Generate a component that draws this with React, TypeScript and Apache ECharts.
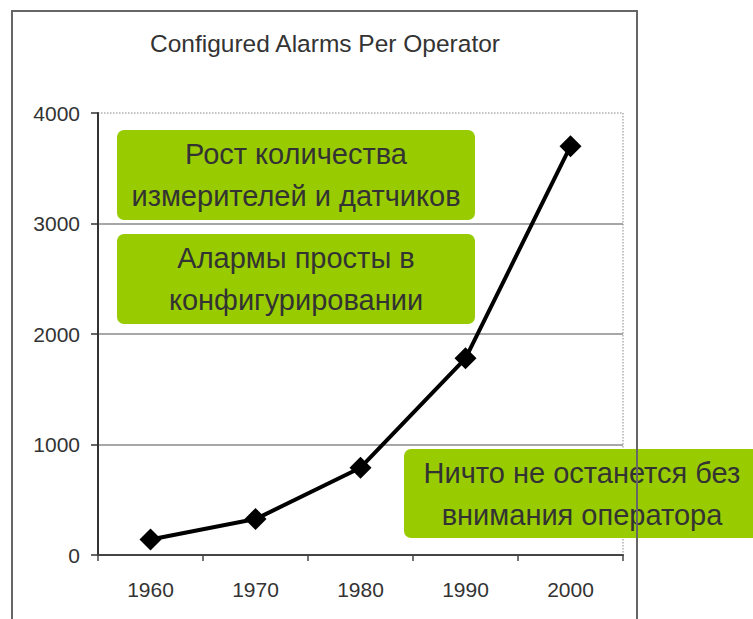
import React, { useEffect, useRef } from "react";
import * as echarts from "echarts";

const years = ["1960", "1970", "1980", "1990", "2000"];
const alarms = [140, 325, 790, 1780, 3700];
const chartTitle = "Configured Alarms Per Operator";
const notes = [
  "Рост количества\nизмерителей и датчиков",
  "Алармы просты в\nконфигурировании",
  "Ничто не останется без\nвнимания оператора",
];

const FONT = "Liberation Sans";
const GREEN = "#99CC00";
const TEXT = "#333333";

function noteBox(x: number, y: number, w: number, h: number, text: string, cx: number) {
  return {
    type: "group",
    z: 100,
    children: [
      {
        type: "rect",
        shape: { x, y, width: w, height: h, r: 7 },
        style: { fill: GREEN },
      },
      {
        type: "text",
        x: cx,
        y: y + h / 2,
        style: {
          text,
          fill: TEXT,
          fontSize: 29,
          fontFamily: FONT,
          lineHeight: 42,
          align: "center",
          verticalAlign: "middle",
        },
      },
    ],
  };
}

export default function App() {
  const ref = useRef<HTMLDivElement>(null);
  useEffect(() => {
    if (!ref.current) return;
    const chart = echarts.init(ref.current, null, { renderer: "svg" });
    chart.setOption({
      animation: false,
      backgroundColor: "#ffffff",
      textStyle: { fontFamily: FONT },
      grid: {
        left: 98,
        right: 130,
        top: 113,
        bottom: 64,
        show: true,
        borderColor: "#b0b0b0",
        borderWidth: 1.5,
        borderType: "dotted",
      },
      xAxis: {
        type: "category",
        data: years,
        boundaryGap: true,
        axisLine: { lineStyle: { color: "#444", width: 2 } },
        axisTick: { show: true, length: 6, alignWithLabel: false, lineStyle: { color: "#444", width: 1.5 } },
        axisLabel: { color: TEXT, fontSize: 21, fontFamily: FONT, margin: 24 },
        splitLine: { show: false },
      },
      yAxis: {
        type: "value",
        min: 0,
        max: 4000,
        interval: 1000,
        axisLine: { show: true, lineStyle: { color: "#333", width: 2 } },
        axisTick: { show: true, length: 7, inside: false, lineStyle: { color: "#333", width: 1.5 } },
        axisLabel: {
          color: TEXT,
          fontSize: 21,
          fontFamily: FONT,
          margin: 18,
          formatter: (v: number) => String(v),
        },
        splitLine: {
          show: true,
          showMinLine: false,
          showMaxLine: false,
          lineStyle: { color: "#8a8a8a", width: 1.5 },
        },
      },
      series: [
        {
          type: "line",
          data: alarms,
          symbol: "diamond",
          symbolSize: 22,
          lineStyle: { color: "#000", width: 4 },
          itemStyle: { color: "#000" },
          z: 5,
        },
      ],
      graphic: [
        {
          type: "rect",
          shape: { x: 12, y: 11, width: 625, height: 700 },
          style: { fill: "none", stroke: "#666", lineWidth: 2 },
          z: 1,
        },
        {
          type: "text",
          x: 325,
          y: 43,
          style: {
            text: chartTitle,
            fill: TEXT,
            fontSize: 24.5,
            fontFamily: FONT,
            align: "center",
            verticalAlign: "middle",
          },
        },
        noteBox(117, 130, 358, 90, notes[0], 296),
        noteBox(117, 234, 358, 90, notes[1], 296),
        noteBox(404, 449, 360, 89, notes[2], 582),
      ],
    });
    return () => chart.dispose();
  }, []);
  return (
    <div
      ref={ref}
      style={{ position: "fixed", left: 0, top: 0, width: 753, height: 619, background: "#fff" }}
    />
  );
}
